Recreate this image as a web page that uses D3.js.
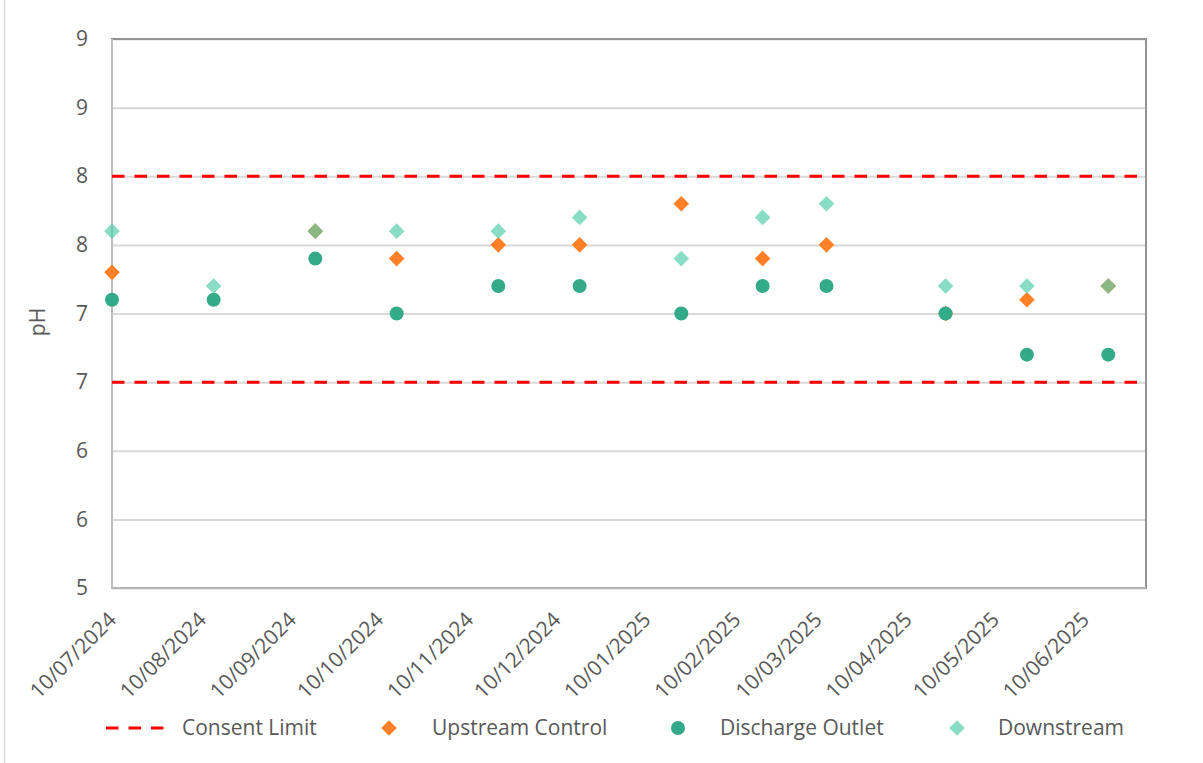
<!DOCTYPE html>
<html>
<head>
<meta charset="utf-8">
<title>pH monitoring</title>
<script src="https://cdn.jsdelivr.net/npm/d3@7"></script>
<style>
  html, body { margin: 0; padding: 0; background: #ffffff; }
  svg { display: block; }
  text { font-family: "Open Sans", "Noto Sans", sans-serif; fill: #595959; }
</style>
</head>
<body>
<svg id="chart" width="1203" height="763"></svg>
<script>
// Sampling dates (dd/mm/yyyy) and measured pH per monitoring site
const sampleDates = ["10/07/2024", "14/08/2024", "18/09/2024", "16/10/2024", "20/11/2024", "18/12/2024",
                     "22/01/2025", "19/02/2025", "13/03/2025", "23/04/2025", "21/05/2025", "18/06/2025"];
const upstreamControl = [7.3, null, 7.6, 7.4, 7.5, 7.5, 7.8, 7.4, 7.5, 7.0, 7.1, 7.2];
const dischargeOutlet = [7.1, 7.1, 7.4, 7.0, 7.2, 7.2, 7.0, 7.2, 7.2, 7.0, 6.7, 6.7];
const downstream      = [7.6, 7.2, 7.6, 7.6, 7.6, 7.7, 7.4, 7.7, 7.8, 7.2, 7.2, 7.2];

// Consent limits (lower, upper)
const consentLimits = [6.5, 8.0];

// Axis settings
const xAxisRange = ["10/07/2024", "01/07/2025"];
const xTickLabels = ["10/07/2024", "10/08/2024", "10/09/2024", "10/10/2024", "10/11/2024", "10/12/2024",
                     "10/01/2025", "10/02/2025", "10/03/2025", "10/04/2025", "10/05/2025", "10/06/2025"];
const yDomain = [5, 9];
const yTicks = [5, 5.5, 6, 6.5, 7, 7.5, 8, 8.5, 9];
const yTitle = "pH";
const legendNames = ["Consent Limit", "Upstream Control", "Discharge Outlet", "Downstream"];

const colors = {
  limit: "#ff0000",
  upstream: "#ff8027",
  discharge: "#33aa88",
  downstream: "rgb(85,207,171)"
};

const parseDate = d3.timeParse("%d/%m/%Y");
const fmtDate = d3.timeFormat("%d/%m/%Y");

const plot = { left: 112, top: 39, right: 1146, bottom: 588 };

const svg = d3.select("#chart");

// Outer chart frame (only its left edge falls inside the view)
svg.append("rect")
  .attr("x", 4.5).attr("y", -20)
  .attr("width", 1260).attr("height", 820)
  .attr("fill", "none").attr("stroke", "#d9d9d9").attr("stroke-width", 1.5);

const x = d3.scaleTime()
  .domain(xAxisRange.map(parseDate))
  .range([plot.left, plot.right]);

const y = d3.scaleLinear()
  .domain(yDomain)
  .range([plot.bottom, plot.top]);

// Horizontal gridlines
svg.append("g")
  .attr("transform", `translate(${plot.left},0)`)
  .call(d3.axisLeft(y).tickValues(yTicks).tickSize(-(plot.right - plot.left)).tickFormat(""))
  .call(g => g.select(".domain").remove())
  .call(g => g.selectAll(".tick line").attr("stroke", "#d9d9d9").attr("stroke-width", 2));

// Plot area border
svg.append("rect")
  .attr("x", plot.left).attr("y", plot.top)
  .attr("width", plot.right - plot.left).attr("height", plot.bottom - plot.top)
  .attr("fill", "none").attr("stroke", "#939393").attr("stroke-width", 2);

// Y axis labels
const yAxis = svg.append("g")
  .attr("transform", `translate(${plot.left},0)`)
  .call(d3.axisLeft(y).tickValues(yTicks).tickSize(0).tickPadding(24).tickFormat(d3.format(".0f")));
yAxis.select(".domain").remove();
yAxis.selectAll(".tick text")
  .style("font-family", "\"Open Sans\", sans-serif")
  .attr("font-size", 21)
  .attr("fill", "#595959");

// X axis labels, rotated
const xAxis = svg.append("g")
  .attr("transform", `translate(0,${plot.bottom})`)
  .call(d3.axisBottom(x).tickValues(xTickLabels.map(parseDate)).tickSize(0).tickFormat(fmtDate));
xAxis.select(".domain").remove();
xAxis.selectAll(".tick text")
  .style("font-family", "\"Open Sans\", sans-serif")
  .attr("font-size", 21)
  .attr("fill", "#595959")
  .attr("text-anchor", "end")
  .attr("x", 0).attr("y", 0).attr("dy", 0)
  .attr("transform", "translate(5,33) rotate(-45)");

// Axis lines (left and bottom)
svg.append("line")
  .attr("x1", plot.left).attr("x2", plot.left)
  .attr("y1", plot.top).attr("y2", plot.bottom + 1)
  .attr("stroke", "#bfbfbf").attr("stroke-width", 2);
svg.append("line")
  .attr("x1", plot.left - 1).attr("x2", plot.right)
  .attr("y1", plot.bottom).attr("y2", plot.bottom)
  .attr("stroke", "#b4b4b4").attr("stroke-width", 2);

// Y axis title
svg.append("text")
  .attr("transform", "translate(38,322) rotate(-90)")
  .attr("text-anchor", "middle")
  .attr("dy", "0.35em")
  .attr("font-size", 21)
  .text(yTitle);

// Consent limit lines
const limitLine = d3.line().x(d => x(d[0])).y(d => y(d[1]));
svg.append("g").selectAll("path")
  .data(consentLimits)
  .join("path")
  .attr("d", v => limitLine(x.domain().map(dt => [dt, v])))
  .attr("fill", "none")
  .attr("stroke", colors.limit)
  .attr("stroke-width", 3)
  .attr("stroke-dasharray", "12.5,10");

// Marker shapes
const diamondPath = d3.symbol(d3.symbolSquare, 122)();
const dates = sampleDates.map(parseDate);
const points = vals => vals.map((v, i) => ({ date: dates[i], value: v })).filter(d => d.value != null);

// Upstream control (diamonds)
svg.append("g").selectAll("path")
  .data(points(upstreamControl))
  .join("path")
  .attr("d", diamondPath)
  .attr("transform", d => `translate(${x(d.date)},${y(d.value)}) rotate(45)`)
  .attr("fill", colors.upstream);

// Discharge outlet (circles)
svg.append("g").selectAll("circle")
  .data(points(dischargeOutlet))
  .join("circle")
  .attr("cx", d => x(d.date))
  .attr("cy", d => y(d.value))
  .attr("r", 7)
  .attr("fill", colors.discharge);

// Downstream (semi-transparent diamonds)
svg.append("g").selectAll("path")
  .data(points(downstream))
  .join("path")
  .attr("d", diamondPath)
  .attr("transform", d => `translate(${x(d.date)},${y(d.value)}) rotate(45)`)
  .attr("fill", colors.downstream)
  .attr("fill-opacity", 0.7);

// Legend
const legendY = 728;
const legend = svg.append("g");

legend.append("line")
  .attr("x1", 106).attr("x2", 166)
  .attr("y1", legendY).attr("y2", legendY)
  .attr("stroke", colors.limit).attr("stroke-width", 3)
  .attr("stroke-dasharray", "12.5,10");

legend.append("path")
  .attr("d", diamondPath)
  .attr("transform", `translate(389,${legendY}) rotate(45)`)
  .attr("fill", colors.upstream);

legend.append("circle")
  .attr("cx", 678).attr("cy", legendY).attr("r", 7)
  .attr("fill", colors.discharge);

legend.append("path")
  .attr("d", diamondPath)
  .attr("transform", `translate(957,${legendY}) rotate(45)`)
  .attr("fill", colors.downstream)
  .attr("fill-opacity", 0.7);

const legendTextX = [182, 432, 720, 998];
legend.selectAll("text")
  .data(legendNames)
  .join("text")
  .attr("x", (d, i) => legendTextX[i])
  .attr("y", legendY)
  .attr("dy", "0.35em")
  .attr("font-size", 21)
  .text(d => d);
</script>
</body>
</html>
